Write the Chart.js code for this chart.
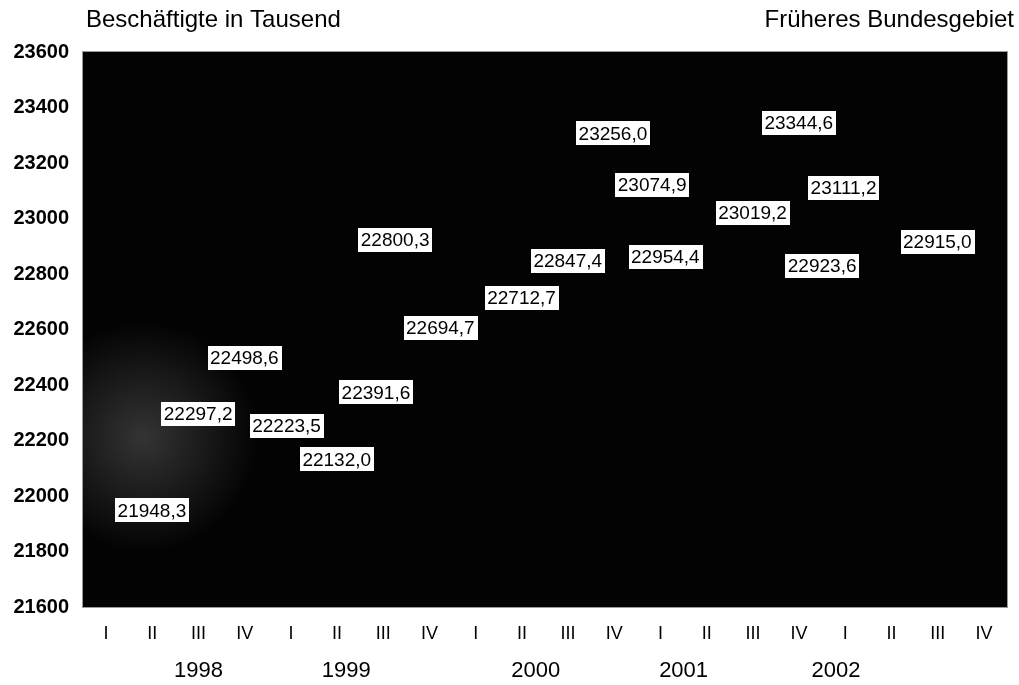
<!DOCTYPE html>
<html>
<head>
<meta charset="utf-8">
<script src="https://cdn.jsdelivr.net/npm/chart.js@4.4.0/dist/chart.umd.min.js"></script>
<style>
  html, body { margin: 0; padding: 0; background: #fff; }
  #wrap { width: 1019px; height: 685px; }
</style>
</head>
<body>
<div id="wrap"><canvas id="chart"></canvas></div>
<script>
// quarters 1998 I .. 2002 IV
var quarters = ["I", "II", "III", "IV", "I", "II", "III", "IV", "I", "II", "III", "IV",
                "I", "II", "III", "IV", "I", "II", "III", "IV"]
var years = ["1998", "1999", "2000", "2001", "2002"]
// where the year captions sit, in category units
var yearAt = [2, 5.2, 9.3, 12.5, 15.8]

var beschaeftigte = [21948.3, 22297.2, 22498.6, 22223.5,
                     22132.0, 22391.6, 22800.3, 22694.7,
                     22712.7, 22847.4, 23256.0, 23074.9,
                     22954.4, 23019.2, 23344.6, 23111.2,
                     22923.6, 22915.0, null, null]

var yMin = 21600, yMax = 23600, yStep = 200

// hand moved labels (pixels, relative to "right of point")
var labelShift = [[0, 0], [0, 0], [0, 0], [-4, -8], [0, 0], [-7, 5], [-34, -34], [-35, 25],
                  [0, 0], [0, 0], [-1, -14], [-8, -13], [-41, 26], [0, 0], [0, 0], [0, 0],
                  [-69, 26], [0, 0], [0, 0], [0, 0]]

var FONT = "Arial, 'Liberation Sans', sans-serif"

function fmt(v) {
    return v.toFixed(1).replace(".", ",")
}

var plotBack = {
    id: "plotBack",
    beforeDraw: function (chart) {
        var a = chart.chartArea
        var ctx = chart.ctx
        ctx.save()
        ctx.fillStyle = "#030303"
        ctx.fillRect(a.left, a.top, a.right - a.left, a.bottom - a.top)
        // scanned grey haze in the lower left corner
        var g = ctx.createRadialGradient(a.left + 60, a.bottom - 170, 5, a.left + 60, a.bottom - 170, 115)
        g.addColorStop(0, "rgba(120,120,120,0.4)")
        g.addColorStop(1, "rgba(120,120,120,0)")
        ctx.fillStyle = g
        ctx.fillRect(a.left, a.top, a.right - a.left, a.bottom - a.top)
        ctx.strokeStyle = "#9a9a9a"
        ctx.lineWidth = 1
        ctx.strokeRect(a.left - 0.5, a.top - 0.5, a.right - a.left + 1, a.bottom - a.top + 1)
        ctx.restore()
    }
}

var captions = {
    id: "captions",
    afterDraw: function (chart) {
        var ctx = chart.ctx
        var a = chart.chartArea
        var x = chart.scales.x
        ctx.save()
        ctx.fillStyle = "#000"
        ctx.textBaseline = "alphabetic"
        ctx.font = "24px " + FONT
        ctx.textAlign = "left"
        ctx.fillText("Beschäftigte in Tausend", a.left + 3, 27)
        ctx.textAlign = "right"
        ctx.fillText("Früheres Bundesgebiet", chart.width - 5, 27)

        ctx.font = "22px " + FONT
        ctx.textAlign = "center"
        ctx.textBaseline = "middle"
        years.forEach(function (y, i) {
            ctx.fillText(y, x.getPixelForValue(yearAt[i]), 671)
        })
        ctx.restore()
    }
}

var valueBoxes = {
    id: "valueBoxes",
    afterDatasetsDraw: function (chart) {
        var ctx = chart.ctx
        var meta = chart.getDatasetMeta(0)
        ctx.save()
        ctx.font = "19px " + FONT
        ctx.textAlign = "center"
        ctx.textBaseline = "middle"
        meta.data.forEach(function (pt, i) {
            var v = beschaeftigte[i]
            if (v === null) return
            var txt = fmt(v)
            var w = ctx.measureText(txt).width + 5
            var h = 24
            var cx = pt.x + 9 + w / 2 + labelShift[i][0]
            var cy = pt.y + labelShift[i][1]
            ctx.fillStyle = "#fff"
            ctx.fillRect(Math.round(cx - w / 2), Math.round(cy - h / 2), Math.round(w), h)
            ctx.fillStyle = "#000"
            ctx.fillText(txt, cx, cy + 1)
        })
        ctx.restore()
    }
}

var ctx = document.getElementById("chart")
var myChart = new Chart(ctx, {
    type: "line",
    data: {
        labels: quarters,
        datasets: [{
            label: "Beschäftigte",
            data: beschaeftigte,
            showLine: false,
            pointRadius: 0,
            fill: false
        }]
    },
    options: {
        responsive: true,
        maintainAspectRatio: false,
        animation: false,
        events: [],
        layout: { padding: { top: 52, right: 12, left: 0, bottom: 0 } },
        plugins: {
            legend: { display: false },
            tooltip: { enabled: false },
            title: { display: false }
        },
        scales: {
            x: {
                offset: true,
                grid: { display: false, drawTicks: false },
                border: { display: false },
                ticks: {
                    color: "#000",
                    font: { family: FONT, size: 18 },
                    padding: 16,
                    autoSkip: false,
                    maxRotation: 0
                },
                afterFit: function (scale) { scale.height = 78 }
            },
            y: {
                min: yMin,
                max: yMax,
                grid: { display: false, drawTicks: false },
                border: { display: false },
                ticks: {
                    stepSize: yStep,
                    color: "#000",
                    font: { family: FONT, size: 20, weight: "bold" },
                    padding: 14,
                    callback: function (v) { return String(v) }
                },
                afterFit: function (scale) { scale.width = 83 }
            }
        }
    },
    plugins: [plotBack, valueBoxes, captions]
})
</script>
</body>
</html>
